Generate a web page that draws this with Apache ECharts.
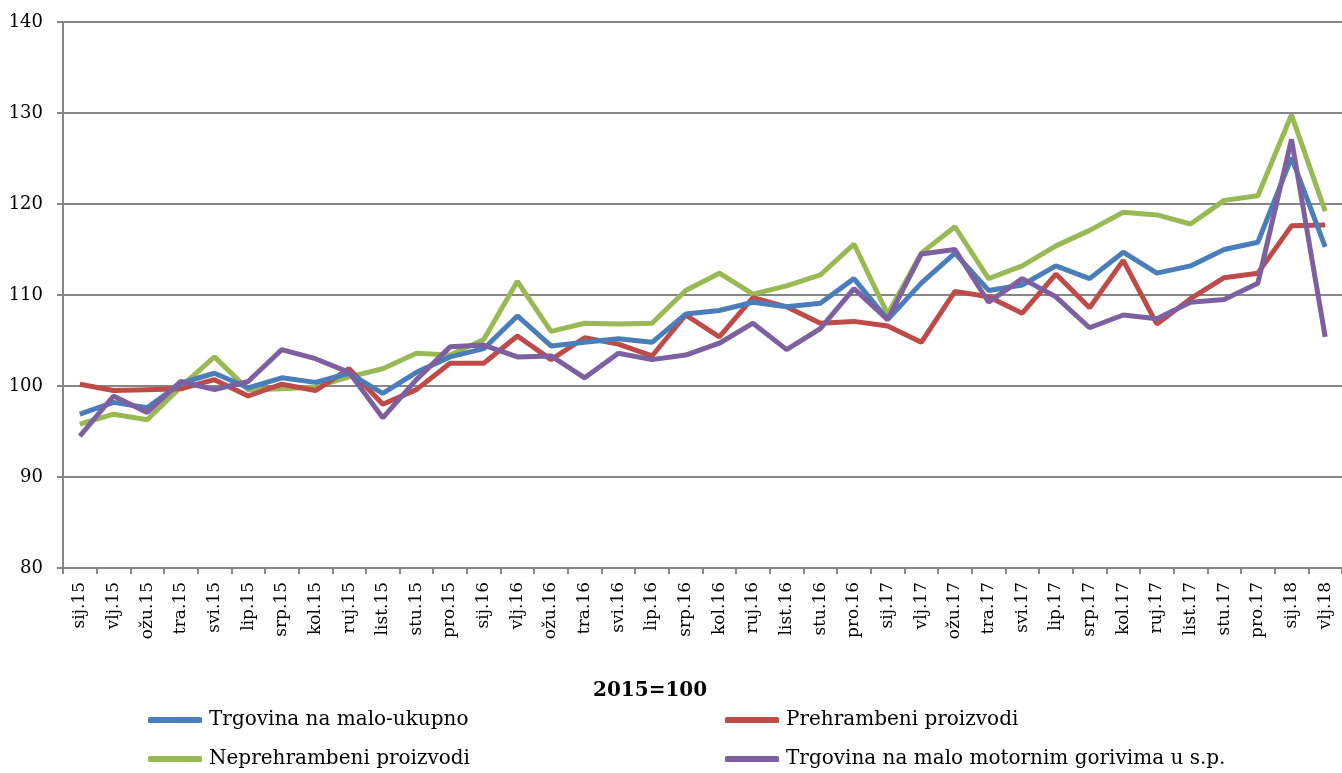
<!DOCTYPE html>
<html>
<head>
<meta charset="utf-8">
<script src="https://cdn.jsdelivr.net/npm/echarts@6/dist/echarts.min.js"></script>
<style>
html,body{margin:0;padding:0;background:#fff;}
#c{width:1342px;height:773px;}
</style>
</head>
<body>
<div id="c"></div>
<script>
const categories = ["sij.15","vlj.15","ožu.15","tra.15","svi.15","lip.15","srp.15","kol.15","ruj.15","list.15","stu.15","pro.15",
"sij.16","vlj.16","ožu.16","tra.16","svi.16","lip.16","srp.16","kol.16","ruj.16","list.16","stu.16","pro.16",
"sij.17","vlj.17","ožu.17","tra.17","svi.17","lip.17","srp.17","kol.17","ruj.17","list.17","stu.17","pro.17",
"sij.18","vlj.18"];

const ukupno = [96.9,98.2,97.6,100.3,101.4,99.8,100.9,100.4,101.4,99.2,101.5,103.2,
104.1,107.7,104.4,104.8,105.2,104.8,107.9,108.3,109.2,108.7,109.1,111.8,
107.3,111.3,114.6,110.5,111.1,113.2,111.8,114.7,112.4,113.2,115.0,115.8,
125.1,115.3];

const prehrambeni = [100.2,99.5,99.6,99.7,100.7,98.9,100.2,99.5,101.9,98.0,99.6,102.5,
102.5,105.5,102.9,105.3,104.6,103.3,107.8,105.4,109.7,108.7,106.9,107.1,
106.6,104.8,110.4,109.8,108.0,112.3,108.6,113.8,106.8,109.6,111.9,112.4,
117.6,117.7];

const neprehrambeni = [95.8,96.9,96.3,99.9,103.2,99.6,99.7,99.9,101.0,101.9,103.6,103.4,
105.1,111.5,106.0,106.9,106.8,106.9,110.5,112.4,110.1,111.0,112.2,115.6,
107.9,114.6,117.5,111.8,113.2,115.4,117.1,119.1,118.8,117.8,120.4,120.9,
129.8,119.2];

const gorivima = [94.5,98.9,97.1,100.5,99.6,100.5,104.0,103.0,101.5,96.5,100.7,104.3,
104.5,103.2,103.3,100.9,103.6,102.9,103.4,104.7,106.9,104.0,106.3,110.7,
107.3,114.5,115.0,109.2,111.8,109.8,106.4,107.8,107.4,109.2,109.5,111.3,
127.1,105.4];

const seriesNames = ["Trgovina na malo-ukupno","Prehrambeni proizvodi","Neprehrambeni proizvodi","Trgovina na malo motornim gorivima u s.p."];
const yTicks = {min:80, max:140, interval:10};
const titleText = "2015=100";

const colors = ['#4a7ebb','#be4b48','#98b954','#7d60a0'];
const serif = 'DejaVu Serif';

const chart = echarts.init(document.getElementById('c'), null, {renderer:'canvas'});

function mkLegend(name, left, top){
  return {
    data:[name], left:left, top:top, icon:'roundRect', itemWidth:54, itemHeight:6, itemGap:0,
    textStyle:{fontFamily:serif, fontSize:20, color:'#000', padding:[0,0,0,2]}
  };
}

chart.setOption({
  animation:false,
  backgroundColor:'#fff',
  color:colors,
  title:{text:titleText, left:588, top:676, textStyle:{fontFamily:serif, fontWeight:'bold', fontSize:20, color:'#000'}},
  legend:[
    mkLegend(seriesNames[0],143,705),
    mkLegend(seriesNames[1],720,705),
    mkLegend(seriesNames[2],143,744),
    mkLegend(seriesNames[3],720,744)
  ],
  grid:{left:63, right:-4, top:22, bottom:205, containLabel:false},
  xAxis:{
    type:'category', data:categories, boundaryGap:true,
    axisLine:{lineStyle:{color:'#868686', width:2}},
    axisTick:{show:true, length:6, alignWithLabel:false, lineStyle:{color:'#868686', width:2}},
    axisLabel:{rotate:90, interval:0, margin:14, fontFamily:serif, fontSize:17, color:'#000'},
    splitLine:{show:false}
  },
  yAxis:{
    type:'value', min:yTicks.min, max:yTicks.max, interval:yTicks.interval,
    axisLine:{show:true, lineStyle:{color:'#868686', width:2}},
    axisTick:{show:true, length:6, lineStyle:{color:'#868686', width:2}},
    axisLabel:{fontFamily:serif, fontSize:18, color:'#000', margin:20},
    splitLine:{show:true, lineStyle:{color:'#868686', width:2}}
  },
  series:[
    {name:seriesNames[0], type:'line', data:ukupno, showSymbol:false, symbol:'none', lineStyle:{width:5}, z:3},
    {name:seriesNames[1], type:'line', data:prehrambeni, showSymbol:false, symbol:'none', lineStyle:{width:5}, z:2},
    {name:seriesNames[2], type:'line', data:neprehrambeni, showSymbol:false, symbol:'none', lineStyle:{width:5}, z:1},
    {name:seriesNames[3], type:'line', data:gorivima, showSymbol:false, symbol:'none', lineStyle:{width:5}, z:4}
  ]
});
</script>
</body>
</html>
